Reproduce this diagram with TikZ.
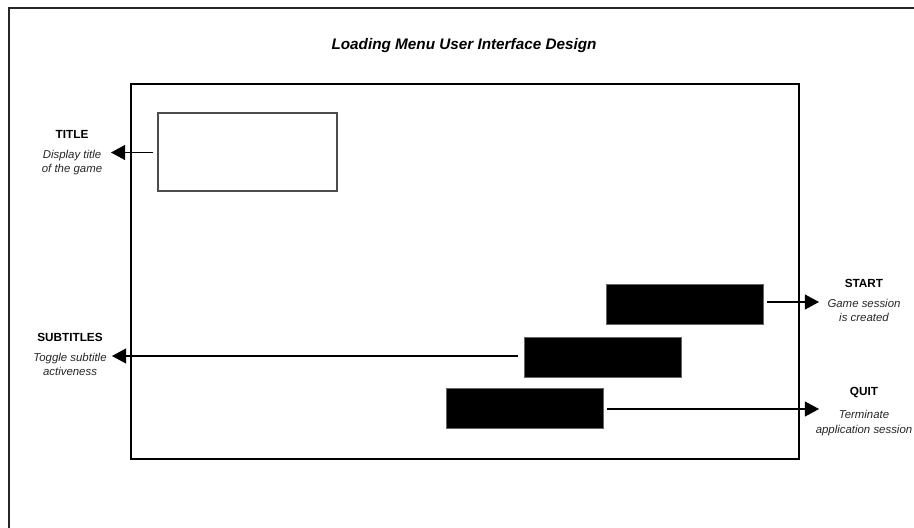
\documentclass[tikz,border=0pt]{standalone}
\usepackage{fontspec}
\setmainfont{Liberation Sans}
\usetikzlibrary{arrows.meta,positioning}

\tikzset{
  frameline/.style={line width=1.1pt, black!85},
  panel/.style={draw=black!70, line width=0.6pt, fill=white, inner sep=0pt},
  button/.style={draw=black!60, line width=0.4pt, fill=black, inner sep=0pt,
    minimum width=3.14cm, minimum height=0.8cm},
  pointer/.style={line width=0.6pt, -{Triangle[length=8pt,width=8.5pt]}},
  heading/.style={font=\fontsize{6.7}{7.5}\selectfont\bfseries, inner sep=0pt},
  caption/.style={font=\fontsize{6.5}{8.2}\selectfont\itshape, align=center, inner sep=0pt, text=black!85},
}

\begin{document}
\begin{tikzpicture}[x=0.02cm, y=-0.02cm]
	\useasboundingbox (0,0) rectangle (914,528);
	% Marco exterior (sólo se ven los lados izquierdo y superior)
	\draw[frameline] (9,528) -- (9,8) -- (914,8);
	% Título del diagrama
	\node[font=\fontsize{8.7}{10}\selectfont\bfseries\itshape] (diagramtitle) at (464,46) {Loading Menu User Interface Design};
	% Pantalla del menú
	\node[draw, line width=1.1pt, minimum width=13.36cm, minimum height=7.5cm, inner sep=0pt] (screen) at (465,271.5) {};
	% Caja del título del juego
	\node[panel, minimum width=3.58cm, minimum height=1.56cm] (titlebox) at (247.5,152) {};
	% Botones
	\node[button] (startbtn) at (684.5,304.5) {};
	\node[button] (subbtn) at (602.5,357) {};
	\node[button] (quitbtn) at (524.5,408.5) {};
	% Etiquetas de la izquierda
	\node[heading] (titlehead) at (72,134) {TITLE};
	\node[caption, below=6.5pt of titlehead] (titlecap) {Display title\\of the game};
	\node[heading] (subhead) at (70,337) {SUBTITLES};
	\node[caption, below=6.5pt of subhead] (subcap) {Toggle subtitle\\activeness};
	% Etiquetas de la derecha
	\node[heading] (starthead) at (864,283) {START};
	\node[caption, below=6.5pt of starthead] (startcap) {Game session\\is created};
	\node[heading] (quithead) at (864,393) {QUIT};
	\node[caption, below=6.5pt of quithead] (quitcap) {Terminate\\application session};
	% Puntas de las flechas
	\coordinate (titletip) at (111,152.5);
	\coordinate (subtip) at (112,356);
	\coordinate (starttip) at (819,302);
	\coordinate (quittip) at (819,409);
	% Flechas
	\draw[pointer] ([xshift=-2.5pt]titlebox.west |- titletip) -- (titletip);
	\draw[pointer] ([xshift=-3pt]subbtn.west |- subtip) -- (subtip);
	\draw[pointer] ([xshift=2pt]startbtn.east |- starttip) -- (starttip);
	\draw[pointer] ([xshift=2pt]quitbtn.east |- quittip) -- (quittip);
\end{tikzpicture}
\end{document}
